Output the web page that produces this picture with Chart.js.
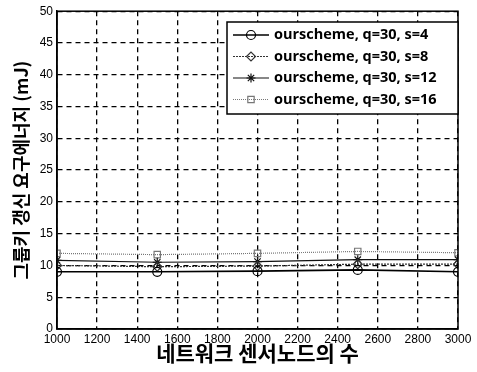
<!DOCTYPE html>
<html>
<head>
<meta charset="utf-8">
<script src="https://cdn.jsdelivr.net/npm/chart.js@4.4.1/dist/chart.umd.min.js"></script>
<style>
  html, body { margin: 0; padding: 0; background: #fff; }
  #wrap { width: 477px; height: 372px; }
</style>
</head>
<body>
<div id="wrap"><canvas id="chart" width="477" height="372"></canvas></div>
<script>
let nodeCounts = [1000, 1500, 2000, 2500, 3000];
let seriesLabels = ['ourscheme, q=30, s=4', 'ourscheme, q=30, s=8', 'ourscheme, q=30, s=12', 'ourscheme, q=30, s=16'];
let energyS4 = [9.0, 9.0, 9.1, 9.3, 9.0];
let energyS8 = [10.0, 9.8, 9.9, 10.2, 10.2];
let energyS12 = [10.8, 10.5, 10.6, 10.9, 10.9];
let energyS16 = [11.9, 11.7, 11.9, 12.2, 12.0];
let xTitle = '네트워크 센서노드의 수';
let yTitle = '그룹키 갱신 요구에너지 (mJ)';

function toPoints(vals) {
  return vals.map((v, i) => ({ x: nodeCounts[i], y: v }));
}

// legend box drawn inside the plot, like the matlab one
const boxLegend = {
  id: 'boxLegend',
  afterDraw(chart) {
    const ctx = chart.ctx;
    const ca = chart.chartArea;
    ctx.save();
    // frame around the plot
    ctx.strokeStyle = '#000';
    ctx.lineWidth = 1.5;
    ctx.setLineDash([]);
    ctx.strokeRect(ca.left, ca.top, ca.right - ca.left, ca.bottom - ca.top);

    const bx = 227, by = 22, bw = 231, bh = 92;
    ctx.fillStyle = '#fff';
    ctx.fillRect(bx, by, bw, bh);
    ctx.lineWidth = 1.5;
    ctx.strokeRect(bx, by, bw, bh);
    chart.data.datasets.forEach((ds, i) => {
      const y = by + 13 + i * 21.5;
      ctx.strokeStyle = ds.borderColor;
      ctx.lineWidth = ds.borderWidth;
      ctx.setLineDash(ds.borderDash || []);
      ctx.beginPath();
      ctx.moveTo(bx + 6, y);
      ctx.lineTo(bx + 42, y);
      ctx.stroke();
      ctx.setLineDash([]);
      ctx.fillStyle = 'rgba(255,255,255,0)';
      ctx.strokeStyle = ds.pointBorderColor;
      ctx.lineWidth = 1.2;
      Chart.helpers.drawPoint(ctx, {
        pointStyle: ds.pointStyle, radius: ds.pointRadius, borderWidth: 1.2
      }, bx + 24, y);
      ctx.fillStyle = '#000';
      ctx.font = 'bold 14.5px "Open Sans"';
      ctx.textBaseline = 'middle';
      ctx.fillText(ds.label, bx + 47, y);
    });
    ctx.restore();
  }
};

function makeSet(label, vals, color, dash, style, width) {
  return {
    label: label,
    data: toPoints(vals),
    borderColor: color,
    borderWidth: width,
    borderDash: dash,
    pointStyle: style,
    pointRadius: 4.5,
    pointBorderColor: color,
    pointBackgroundColor: 'rgba(255,255,255,0)',
    pointBorderWidth: 1.2,
    fill: false,
    tension: 0
  };
}

const gridOpts = { color: '#000', lineWidth: 1.3, drawTicks: false, borderDash: [5, 4] };
const borderOpts = { color: '#000', width: 1.5, dash: [5, 4] };

new Chart(document.getElementById('chart'), {
  type: 'line',
  data: {
    datasets: [
      makeSet(seriesLabels[0], energyS4, '#000', [], 'circle', 1.6),
      makeSet(seriesLabels[1], energyS8, '#333', [2, 1], 'rectRot', 1.2),
      makeSet(seriesLabels[2], energyS12, '#111', [], 'star', 1.2),
      makeSet(seriesLabels[3], energyS16, '#777', [1, 1], 'rect', 1.2)
    ]
  },
  options: {
    responsive: false,
    animation: false,
    layout: { padding: { top: 9, right: 19, left: 0, bottom: 0 } },
    plugins: { legend: { display: false }, tooltip: { enabled: false } },
    scales: {
      x: {
        type: 'linear',
        min: 1000, max: 3000,
        afterFit: (s) => { s.height = 43; },
        ticks: {
          stepSize: 200, color: '#000', padding: 3, maxRotation: 0, autoSkip: false,
          callback: (v) => String(v),
          font: { family: 'Liberation Sans', size: 12 }
        },
        grid: gridOpts,
        border: borderOpts,
        title: {
          display: true, text: xTitle, color: '#000', padding: { top: 0, bottom: 6 },
          font: { family: 'Noto Sans CJK KR', size: 21, weight: 'bold' }
        }
      },
      y: {
        min: 0, max: 50,
        afterFit: (s) => { s.width = 57; },
        ticks: {
          stepSize: 5, color: '#000', padding: 4,
          font: { family: 'Liberation Sans', size: 12 }
        },
        grid: gridOpts,
        border: borderOpts,
        title: {
          display: true, text: yTitle, color: '#000', padding: { top: 10, bottom: 0 },
          font: { family: 'Noto Sans CJK KR', size: 18, weight: 'bold' }
        }
      }
    }
  },
  plugins: [boxLegend]
});
</script>
</body>
</html>
